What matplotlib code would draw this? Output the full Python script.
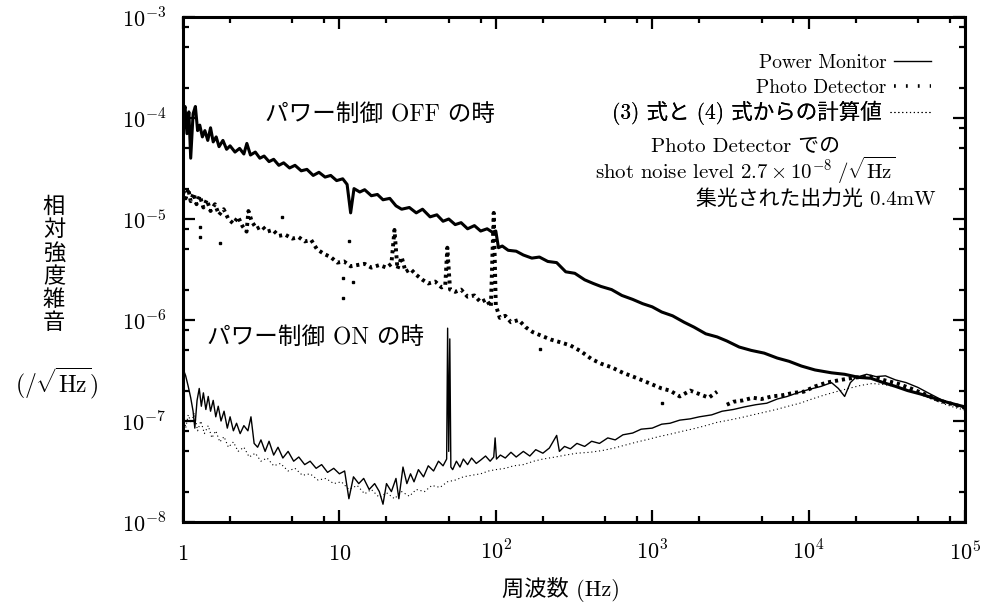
import numpy as np
import matplotlib
matplotlib.use('Agg')
import matplotlib.pyplot as plt
from matplotlib.ticker import LogLocator, NullFormatter
from matplotlib.lines import Line2D

plt.rcParams['font.family'] = ['cmr10', 'Noto Sans CJK JP']
plt.rcParams['mathtext.fontset'] = 'cm'
plt.rcParams['axes.unicode_minus'] = False

# ---- data ----

# power control OFF : power monitor (thick solid)
pm_off_f = [1.00, 1.03, 1.06, 1.09, 1.12, 1.16, 1.20, 1.24, 1.28, 1.33, 1.38, 1.44, 1.50,
            1.56, 1.63, 1.70, 1.80, 1.90, 2.00, 2.15, 2.30, 2.45, 2.56, 2.70, 2.90, 3.10,
            3.30, 3.55, 3.80, 4.10, 4.40, 4.80, 5.20, 5.70, 6.20, 6.80, 7.40, 8.10, 8.80,
            9.60, 10.5, 11.2, 11.8, 12.4, 13.5, 14.5, 16.0, 17.5, 19.0, 21.0, 23.0, 25.0,
            28.0, 31.0, 34.0, 38.0, 42.0, 46.0, 50.0, 55.0, 60.0, 66.0, 73.0, 80.0, 88.0,
            95.0, 100, 104, 110, 120, 135, 150, 170, 190, 215, 245, 280, 320, 370, 420,
            470, 550, 640, 750, 870, 1000, 1150, 1350, 1600, 1850, 2200, 2600, 3000, 3600,
            4300, 5200, 6300, 7500, 9000, 11000, 14000, 17000, 21000, 25000, 30000, 36000,
            43000, 52000, 62000, 75000, 88000, 100000]
pm_off_v = [1.0e-4, 1.3e-4, 7.0e-5, 1.15e-4, 4.0e-5, 1.1e-4, 1.3e-4, 7.5e-5, 8.5e-5, 6.5e-5,
            7.5e-5, 6.0e-5, 8.0e-5, 5.8e-5, 6.5e-5, 5.2e-5, 6.0e-5, 4.9e-5, 5.3e-5, 4.6e-5,
            5.0e-5, 4.4e-5, 5.6e-5, 4.3e-5, 4.6e-5, 4.0e-5, 4.2e-5, 3.7e-5, 3.9e-5, 3.4e-5,
            3.6e-5, 3.2e-5, 3.4e-5, 3.0e-5, 3.1e-5, 2.7e-5, 2.9e-5, 2.6e-5, 2.7e-5, 2.4e-5,
            2.5e-5, 2.2e-5, 1.15e-5, 2.0e-5, 1.85e-5, 1.95e-5, 1.7e-5, 1.75e-5, 1.55e-5,
            1.6e-5, 1.35e-5, 1.25e-5, 1.3e-5, 1.15e-5, 1.25e-5, 1.05e-5, 1.1e-5, 9.5e-6,
            1.0e-5, 8.8e-6, 9.2e-6, 8.0e-6, 8.6e-6, 7.6e-6, 8.0e-6, 7.4e-6, 7.6e-6, 5.2e-6,
            5.4e-6, 4.9e-6, 4.8e-6, 4.4e-6, 4.1e-6, 4.2e-6, 3.8e-6, 3.7e-6, 3.0e-6, 2.9e-6,
            2.5e-6, 2.3e-6, 2.15e-6, 2.0e-6, 1.75e-6, 1.6e-6, 1.45e-6, 1.35e-6, 1.2e-6,
            1.1e-6, 9.5e-7, 8.5e-7, 7.3e-7, 6.8e-7, 6.2e-7, 5.4e-7, 5.0e-7, 4.7e-7, 4.2e-7,
            3.9e-7, 3.5e-7, 3.2e-7, 3.0e-7, 2.9e-7, 2.7e-7, 2.65e-7, 2.4e-7, 2.2e-7, 2.0e-7,
            1.85e-7, 1.7e-7, 1.55e-7, 1.45e-7, 1.38e-7]

# power control OFF : photo detector (thick dots)
pd_off_f = [1.00, 1.04, 1.08, 1.12, 1.17, 1.22, 1.28, 1.35, 1.42, 1.50, 1.60, 1.70, 1.82,
            1.95, 2.10, 2.25, 2.40, 2.55, 2.62, 2.75, 2.95, 3.20, 3.45, 3.75, 4.10, 4.50,
            5.00, 5.50, 6.00, 6.60, 7.20, 8.00, 8.80, 9.70, 10.7, 11.8, 13.0, 14.5, 16.0,
            18.0, 20.0, 21.5, 22.5, 23.5, 25.0, 26.5, 28.5, 31.0, 34.0, 37.0, 41.0, 45.0,
            47.5, 49.0, 51.0, 55.0, 60.0, 66.0, 73.0, 80.0, 87.0, 93.0, 97.0, 100, 106, 115,
            125, 140, 155, 172, 195, 225, 260, 300, 350, 410, 470, 550, 650, 755, 880, 1000,
            1150, 1300, 1500, 1750, 2000, 2300, 2600, 2750, 3000, 3300, 3800, 4400, 5000,
            5800, 6800, 8000, 9300, 11000, 13000, 16000, 20000, 25000, 30000, 37000, 45000,
            55000, 68000, 82000, 100000]
pd_off_v = [1.9e-5, 1.6e-5, 2.0e-5, 1.5e-5, 1.8e-5, 1.4e-5, 1.7e-5, 1.3e-5, 1.55e-5, 1.2e-5,
            1.4e-5, 1.1e-5, 1.25e-5, 1.0e-5, 9.0e-6, 1.05e-5, 8.5e-6, 7.5e-6, 1.2e-5, 9.5e-6,
            8.0e-6, 8.5e-6, 7.5e-6, 7.8e-6, 6.8e-6, 7.0e-6, 6.4e-6, 6.6e-6, 6.0e-6, 6.2e-6,
            5.0e-6, 4.5e-6, 4.2e-6, 3.7e-6, 3.8e-6, 3.4e-6, 3.5e-6, 3.6e-6, 3.3e-6, 3.5e-6,
            3.3e-6, 3.6e-6, 7.8e-6, 3.2e-6, 4.2e-6, 3.0e-6, 3.2e-6, 2.8e-6, 2.5e-6, 2.3e-6,
            2.4e-6, 2.1e-6, 2.2e-6, 5.2e-6, 2.0e-6, 1.9e-6, 2.0e-6, 1.7e-6, 1.75e-6, 1.5e-6,
            1.6e-6, 1.35e-6, 1.15e-5, 1.4e-6, 1.05e-6, 1.1e-6, 9.5e-7, 1.0e-6, 8.5e-7, 7.6e-7,
            7.0e-7, 6.4e-7, 6.0e-7, 5.6e-7, 4.9e-7, 4.1e-7, 3.7e-7, 3.4e-7, 3.0e-7, 2.75e-7,
            2.5e-7, 2.3e-7, 2.1e-7, 2.0e-7, 1.75e-7, 2.0e-7, 1.85e-7, 1.7e-7, 1.95e-7, np.nan,
            1.45e-7, 1.55e-7, 1.6e-7, 1.7e-7, 1.65e-7, 1.75e-7, 1.8e-7, 1.9e-7, 1.95e-7,
            2.2e-7, 2.4e-7, 2.55e-7, 2.7e-7, 2.75e-7, 2.55e-7, 2.35e-7, 2.1e-7, 1.85e-7,
            1.6e-7, 1.48e-7, 1.35e-7]

# stray photo detector points
pd_out_f = [1.28, 1.28, 1.72, 4.3, 10.6, 10.6, 11.5, 12.2, 191, 1150]
pd_out_v = [8.3e-6, 6.6e-6, 5.8e-6, 1.05e-5, 1.66e-6, 2.6e-6, 6.0e-6, 2.4e-6, 5.2e-7, 1.5e-7]

# power control ON : power monitor (thin solid)
pm_on_f = [1.00, 1.04, 1.08, 1.12, 1.16, 1.19, 1.23, 1.27, 1.31, 1.35, 1.40, 1.45, 1.50,
           1.56, 1.62, 1.68, 1.75, 1.83, 1.92, 2.00, 2.10, 2.20, 2.32, 2.45, 2.60, 2.72,
           2.85, 3.00, 3.15, 3.35, 3.55, 3.80, 4.05, 4.35, 4.70, 5.10, 5.50, 6.00, 6.50,
           7.10, 7.70, 8.40, 9.20, 10.0, 10.8, 11.5, 12.3, 13.3, 14.3, 15.5, 16.8, 18.0,
           19.0, 20.0, 21.5, 23.0, 24.0, 25.5, 27.0, 28.5, 30.0, 32.0, 34.5, 37.0, 40.0,
           43.0, 46.0, 48.5, 49.2, 50.0, 50.8, 51.6, 53.0, 56.0, 59.0, 62.0, 66.0, 70.0,
           75.0, 80.0, 86.0, 92.0, 97.0, 99.0, 101, 107, 115, 125, 135, 150, 165, 180, 200,
           220, 245, 255, 275, 300, 330, 370, 410, 460, 520, 580, 650, 750, 850, 1000, 1150,
           1300, 1500, 1750, 2000, 2400, 2800, 3300, 3900, 4600, 5400, 6300, 7300, 8500,
           10000, 12000, 14000, 15500, 17000, 18500, 20000, 23500, 27000, 31000, 36000,
           42000, 50000, 60000, 72000, 85000, 100000]
pm_on_v = [3.3e-7, 2.8e-7, 2.2e-7, 1.7e-7, 1.25e-7, 8.5e-8, 1.6e-7, 2.1e-7, 1.4e-7, 1.9e-7,
           1.3e-7, 1.75e-7, 1.25e-7, 1.6e-7, 1.1e-7, 1.4e-7, 1.0e-7, 1.25e-7, 8.5e-8, 1.1e-7,
           8.0e-8, 9.5e-8, 7.5e-8, 9.0e-8, 8.0e-8, 1.1e-7, 6.0e-8, 5.5e-8, 6.5e-8, 5.0e-8,
           6.3e-8, 4.6e-8, 5.5e-8, 4.3e-8, 5.0e-8, 4.0e-8, 4.4e-8, 3.7e-8, 4.0e-8, 3.4e-8,
           3.7e-8, 3.1e-8, 3.4e-8, 3.0e-8, 3.2e-8, 1.7e-8, 2.8e-8, 2.4e-8, 2.7e-8, 2.1e-8,
           2.4e-8, 2.0e-8, 1.5e-8, 2.4e-8, 2.0e-8, 2.7e-8, 1.7e-8, 3.5e-8, 2.4e-8, 3.0e-8,
           2.5e-8, 3.3e-8, 2.8e-8, 3.6e-8, 3.2e-8, 4.0e-8, 3.6e-8, 4.2e-8, 8.3e-7, 5.0e-8,
           6.5e-7, 3.5e-8, 3.3e-8, 4.0e-8, 3.5e-8, 4.2e-8, 3.7e-8, 4.3e-8, 3.8e-8, 4.1e-8,
           4.5e-8, 4.0e-8, 4.4e-8, 6.8e-8, 4.2e-8, 4.6e-8, 4.3e-8, 4.9e-8, 4.4e-8, 5.0e-8,
           4.5e-8, 5.2e-8, 4.8e-8, 5.4e-8, 7.2e-8, 5.0e-8, 5.6e-8, 5.3e-8, 6.0e-8, 5.6e-8,
           6.3e-8, 6.0e-8, 6.8e-8, 6.5e-8, 7.3e-8, 7.6e-8, 8.3e-8, 8.5e-8, 9.3e-8, 9.5e-8,
           1.02e-7, 1.05e-7, 1.1e-7, 1.15e-7, 1.25e-7, 1.3e-7, 1.38e-7, 1.45e-7, 1.5e-7,
           1.65e-7, 1.75e-7, 1.9e-7, 2.05e-7, 2.2e-7, 2.4e-7, 2.1e-7, 1.75e-7, 2.4e-7,
           2.7e-7, 2.9e-7, 2.75e-7, 2.8e-7, 2.55e-7, 2.4e-7, 2.15e-7, 1.85e-7, 1.6e-7,
           1.45e-7, 1.35e-7]

# power control ON : calculated from eq.(3) and eq.(4) (fine dots)
calc_on_f = [1.00, 1.04, 1.08, 1.13, 1.18, 1.24, 1.30, 1.37, 1.45, 1.53, 1.62, 1.72, 1.83,
             1.95, 2.10, 2.25, 2.45, 2.65, 2.90, 3.15, 3.45, 3.80, 4.20, 4.70, 5.20, 5.80,
             6.50, 7.30, 8.20, 9.20, 10.3, 11.5, 13.0, 14.5, 16.0, 18.0, 20.0, 22.5, 25.0,
             28.0, 31.0, 35.0, 39.0, 44.0, 49.0, 55.0, 62.0, 70.0, 80.0, 90.0, 100, 115, 130,
             150, 175, 200, 240, 280, 330, 400, 480, 570, 680, 800, 950, 1100, 1300, 1550,
             1850, 2200, 2600, 3100, 3700, 4400, 5200, 6200, 7400, 8800, 10500, 12500, 15000,
             18000, 21500, 25500, 30000, 36000, 43000, 51000, 61000, 73000, 86000, 100000]
calc_on_v = [1.3e-7, 8.5e-8, 1.15e-7, 9.5e-8, 1.2e-7, 8.0e-8, 1.0e-7, 7.5e-8, 9.0e-8, 6.8e-8,
             8.0e-8, 6.2e-8, 7.0e-8, 5.5e-8, 6.2e-8, 5.0e-8, 5.5e-8, 4.4e-8, 4.8e-8, 4.0e-8,
             4.3e-8, 3.6e-8, 3.8e-8, 3.2e-8, 3.4e-8, 2.9e-8, 3.0e-8, 2.6e-8, 2.7e-8, 2.4e-8,
             2.5e-8, 2.1e-8, 2.3e-8, 1.9e-8, 2.1e-8, 1.75e-8, 1.95e-8, 1.7e-8, 2.0e-8, 1.8e-8,
             2.1e-8, 2.0e-8, 2.3e-8, 2.2e-8, 2.5e-8, 2.6e-8, 2.8e-8, 2.9e-8, 3.0e-8, 3.2e-8,
             3.3e-8, 3.4e-8, 3.6e-8, 3.7e-8, 4.0e-8, 4.2e-8, 4.4e-8, 4.6e-8, 4.8e-8, 4.9e-8,
             5.1e-8, 5.4e-8, 5.8e-8, 6.2e-8, 6.6e-8, 7.0e-8, 7.4e-8, 7.9e-8, 8.4e-8, 9.0e-8,
             9.7e-8, 1.02e-7, 1.08e-7, 1.15e-7, 1.22e-7, 1.3e-7, 1.4e-7, 1.5e-7, 1.65e-7,
             1.8e-7, 1.95e-7, 2.1e-7, 2.25e-7, 2.35e-7, 2.3e-7, 2.2e-7, 2.05e-7, 1.85e-7,
             1.65e-7, 1.48e-7, 1.36e-7, 1.28e-7]

xtick_vals = [1, 10, 1e2, 1e3, 1e4, 1e5]
xtick_labels = ['$1$', '$10$', '$10^{2}$', '$10^{3}$', '$10^{4}$', '$10^{5}$']
ytick_vals = [1e-8, 1e-7, 1e-6, 1e-5, 1e-4, 1e-3]
ytick_labels = ['$10^{-8}$', '$10^{-7}$', '$10^{-6}$', '$10^{-5}$', '$10^{-4}$', '$10^{-3}$']

legend_labels = ['Power Monitor', 'Photo Detector', '(3) 式と (4) 式からの計算値']

# ---- figure ----
fig = plt.figure(figsize=(9.9, 6.03), dpi=100)
ax = fig.add_axes([183/990, 1-522/603, 782/990, 505/603])

ax.plot(pm_off_f, pm_off_v, color='black', lw=2.2)
ax.plot(pd_off_f, pd_off_v, color='black', lw=2.8, ls=(0, (0.8, 1.0)))
ax.plot(pd_out_f, pd_out_v, ls='none', marker='s', ms=1.8, color='black')
pm_line, = ax.plot(pm_on_f, pm_on_v, color='black', lw=1.0)
calc_line, = ax.plot(calc_on_f, calc_on_v, color='black', lw=0.8, ls=(0, (1, 2.5)))

ax.set_xscale('log')
ax.set_yscale('log')
ax.set_xlim(1, 1e5)
ax.set_ylim(1e-8, 1e-3)

ax.set_xticks(xtick_vals)
ax.set_xticklabels(xtick_labels, fontsize=16)
ax.set_yticks(ytick_vals)
ax.set_yticklabels(ytick_labels, fontsize=16)
ax.xaxis.set_minor_locator(LogLocator(base=10, subs=(2, 5, 8)))
ax.yaxis.set_minor_locator(LogLocator(base=10, subs=(2, 5, 8)))
ax.xaxis.set_minor_formatter(NullFormatter())
ax.yaxis.set_minor_formatter(NullFormatter())

ax.tick_params(which='both', direction='in', top=True, right=True, width=1.6)
ax.tick_params(which='major', length=8.5)
ax.tick_params(which='minor', length=4.5)
ax.tick_params(axis='y', pad=12)
ax.tick_params(axis='x', pad=27)
for lbl in ax.get_xticklabels():
    lbl.set_va('baseline')
for s in ax.spines.values():
    s.set_linewidth(2.2)

# key, one row each so the rows sit like the original
pd_key = Line2D([], [], color='black', lw=2.6, ls=(0, (0.5, 2.8)))
rows = [(pm_line, legend_labels[0], 0.909, 14),
        (pd_key, legend_labels[1], 0.859, 14),
        (calc_line, legend_labels[2], 0.810, 15.5)]
for h, lab, yy, fs in rows:
    leg = ax.legend([h], [lab], loc='center right', bbox_to_anchor=(0.957, yy),
                    markerfirst=False, frameon=False, handlelength=1.9,
                    handletextpad=0.4, borderpad=0, borderaxespad=0, prop={'size': fs})
    ax.add_artist(leg)

# annotations
ax.text(3.35, 1.07e-4, 'パワー制御 OFF の時', fontsize=17, ha='left', va='center')
ax.text(1.42, 6.6e-7, 'パワー制御 ON の時', fontsize=17, ha='left', va='center')
ax.text(0.719, 0.743, 'Photo Detector での', fontsize=15, ha='center', va='center',
        transform=ax.transAxes)
ax.text(0.719, 0.697,
        r'shot noise level $2.7 \times 10^{-8}\;/\sqrt{\mathrm{Hz}}$',
        fontsize=15, ha='center', va='center', transform=ax.transAxes)
ax.text(0.962, 0.640, '集光された出力光 0.4mW', fontsize=15, ha='right', va='center',
        transform=ax.transAxes)

# axis labels
fig.text(54/990, 1-265/603, '相\n対\n強\n度\n雑\n音', fontsize=16, ha='center', va='center',
         linespacing=1.15)
fig.text(57/990, 1-383/603, r'$(/\sqrt{\mathrm{Hz}})$', fontsize=17, ha='center', va='center')
fig.text(561/990, 1-590/603, '周波数 (Hz)', fontsize=16, ha='center', va='center')

fig.savefig('out.png', dpi=100)
